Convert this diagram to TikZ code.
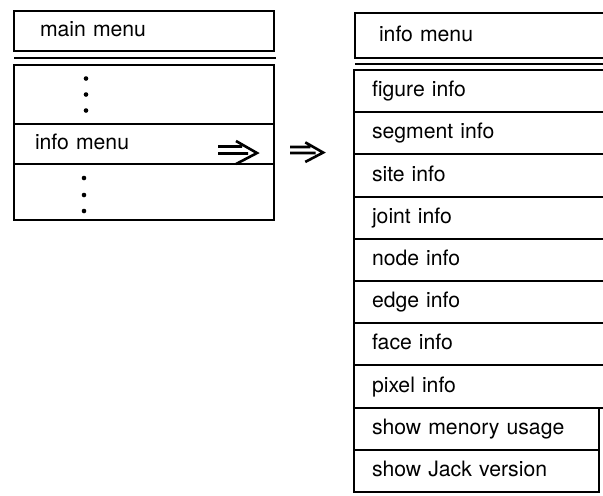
\documentclass[tikz,border=0pt]{standalone}
\usepackage{fontspec}
\setmainfont{TeX Gyre Heros}
\usetikzlibrary{calc}
\begin{document}
\begin{tikzpicture}[x=0.5pt,y=-0.5pt,
  every node/.style={font=\fontsize{10.6pt}{12pt}\selectfont},
  box/.style={draw, line width=1pt, rectangle, anchor=north west, inner ysep=0pt, outer sep=0pt,
    align=left, text height=7.8pt, text depth=2.3pt},
  lrow/.style={box, inner xsep=10.5pt, text width=109pt, minimum height=#1},
  rrow/.style={box, inner xsep=9pt, text width=108pt, minimum height=21.1pt},
  rrowb/.style={rrow, text width=104.5pt},
  sepline/.style={line width=1pt},
  impl/.pic={\draw[line width=1.3pt, line join=miter] (0,-3.5) -- (24,-3.5) (0,3.5) -- (30,3.5)
      (18,-9) -- (39,3) -- (18,14);},
  dotmark/.style={fill=black}
]
\useasboundingbox (0,0) rectangle (603,495);

% left menu
\node[box, inner xsep=13pt, text width=104pt, minimum height=20pt] (mainL) at (14,11) {main menu};
\draw[sepline] ($(mainL.south west)+(0,7)$) -- ($(mainL.south east)+(2,7)$);
\node[lrow=29.5pt] (dotsA) at ($(mainL.south west)+(0,14)$) {};
\node[lrow=20pt] (infoL) at (dotsA.south west) {info menu};
\node[lrow=28pt] (dotsB) at (infoL.south west) {};
\foreach \d in {-16,0,16}{
  \fill[dotmark] ($(dotsA.west)+(72,\d)$) circle (2.3);
}
\foreach \d in {-14,3,19}{
  \fill[dotmark] ($(dotsB.west)+(70,\d)$) circle (2.3);
}
\pic at ($(infoL.east)+(-56,6)$) {impl};
\pic[scale=0.85] at ($(infoL.east)+(16,6)$) {impl};

% right menu
\node[box, inner xsep=12pt, text width=102pt, minimum height=22.5pt] (infoR) at (355,13) {info menu};
\draw[sepline] ($(infoR.south west)+(0,6)$) -- ($(infoR.south east)+(0,6)$);
\node[rrow] (r1) at ($(infoR.south west)+(-1,12)$) {figure info};
\node[rrow] (r2) at (r1.south west) {segment info};
\node[rrow] (r3) at (r2.south west) {site info};
\node[rrow] (r4) at (r3.south west) {joint info};
\node[rrow] (r5) at (r4.south west) {node info};
\node[rrow] (r6) at (r5.south west) {edge info};
\node[rrow] (r7) at (r6.south west) {face info};
\node[rrow] (r8) at (r7.south west) {pixel info};
\node[rrowb] (r9) at (r8.south west) {show menory usage};
\node[rrowb] (r10) at (r9.south west) {show Jack version};
\end{tikzpicture}
\end{document}
